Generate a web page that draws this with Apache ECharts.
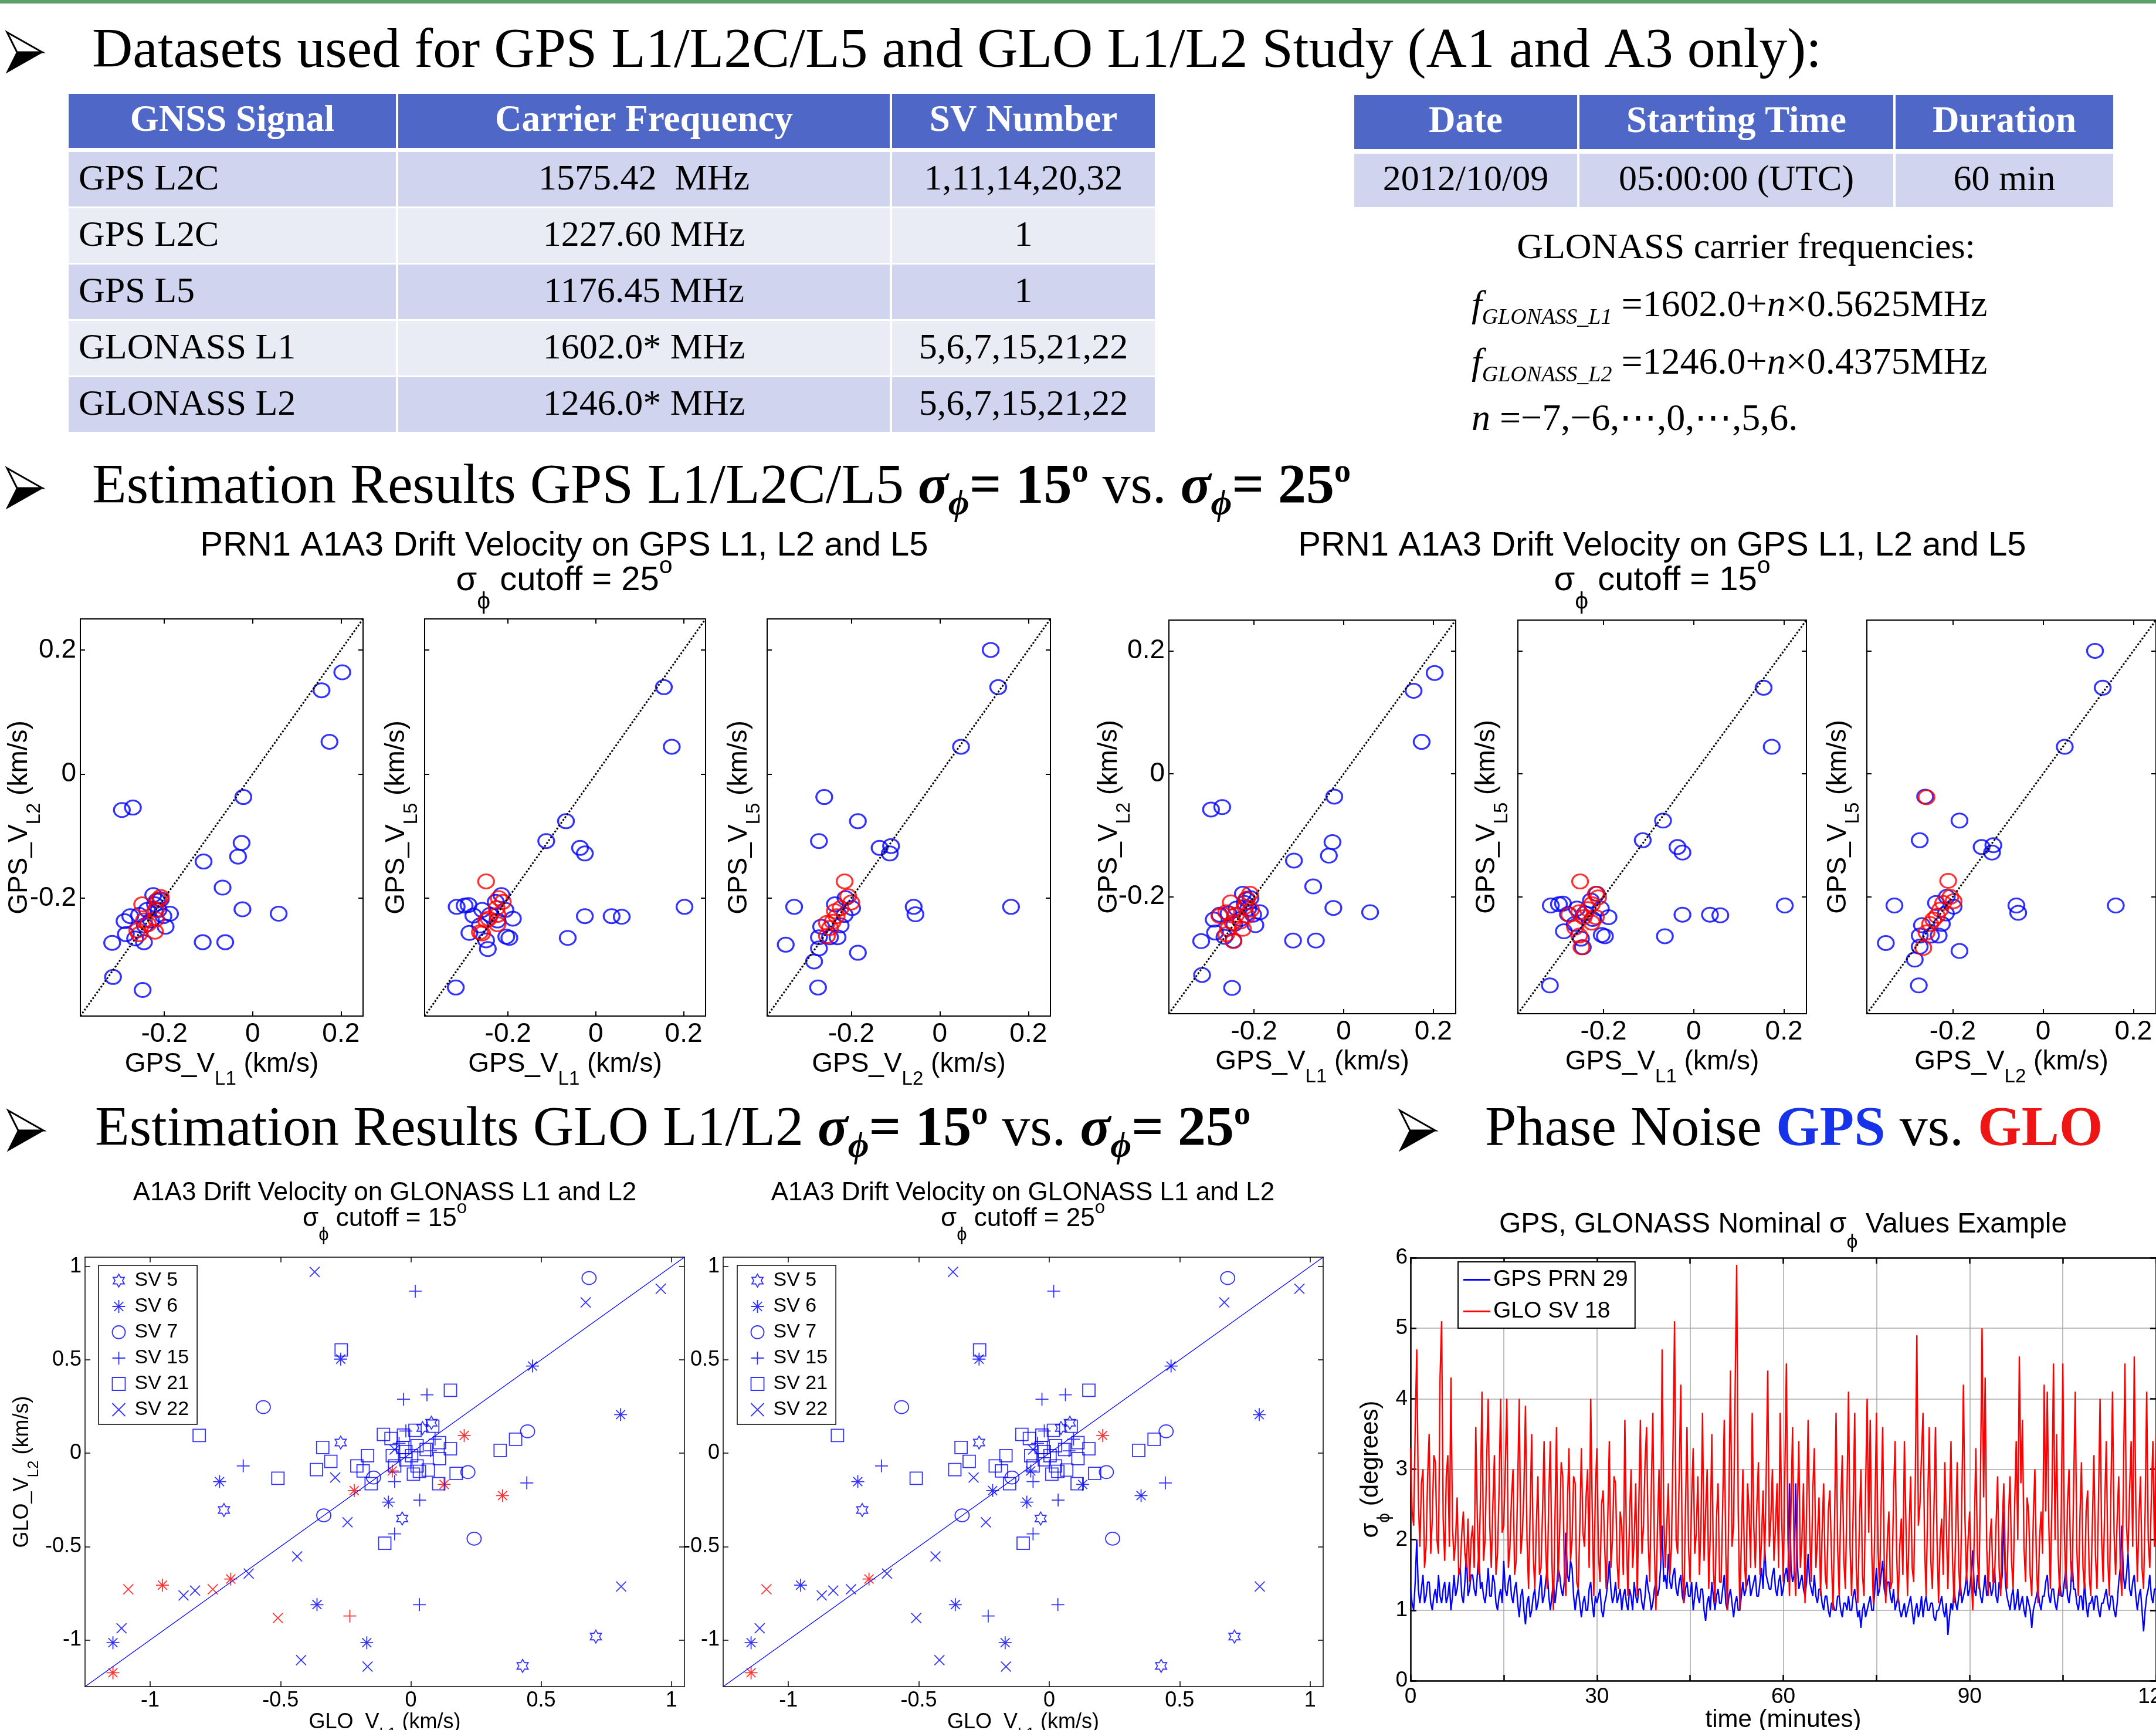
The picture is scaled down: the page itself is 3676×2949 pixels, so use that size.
<!DOCTYPE html>
<html>
<head>
<meta charset="utf-8">
<script src="https://cdn.jsdelivr.net/npm/echarts@6/dist/echarts.min.js"></script>
<style>
  html, body { margin: 0; padding: 0; background: #fff; }
  #slide { width: 3676px; height: 2949px; }
</style>
</head>
<body>
<div id="slide"></div>
<script>
const SERIF = "'Liberation Serif', 'Times New Roman', serif";
const SANS = "'Liberation Sans', Arial, Helvetica, sans-serif";
const BLUE = '#0000ff';
const RED = '#ff0000';

// ---- tables ----
const signalHeader = ['GNSS Signal', 'Carrier Frequency', 'SV Number'];
const signalNames = ['GPS L2C', 'GPS L2C', 'GPS L5', 'GLONASS L1', 'GLONASS L2'];
const signalFreqs = ['1575.42  MHz', '1227.60 MHz', '1176.45 MHz', '1602.0* MHz', '1246.0* MHz'];
const signalSVs = ['1,11,14,20,32', '1', '1', '5,6,7,15,21,22', '5,6,7,15,21,22'];
const dateHeader = ['Date', 'Starting Time', 'Duration'];
const dateRow = ['2012/10/09', '05:00:00 (UTC)', '60 min'];

// ---- GPS drift velocity scatter (km/s) ----
const gpsTicks = [-0.2, 0, 0.2];
const gpsRange = [-0.39, 0.25];
const l1l2Blue = [
  [0.203, 0.164], [0.156, 0.135], [0.174, 0.052], [-0.021, -0.037], [-0.271, -0.054], [-0.296, -0.058],
  [-0.025, -0.111], [-0.033, -0.133], [-0.111, -0.141], [-0.068, -0.183], [-0.023, -0.218], [0.059, -0.225],
  [-0.113, -0.271], [-0.062, -0.271], [-0.318, -0.272], [-0.316, -0.327], [-0.249, -0.348],
  [-0.225, -0.195], [-0.208, -0.202], [-0.187, -0.225], [-0.202, -0.229], [-0.197, -0.246], [-0.277, -0.229],
  [-0.290, -0.237], [-0.287, -0.258], [-0.266, -0.265], [-0.246, -0.271], [-0.257, -0.227], [-0.239, -0.219],
  [-0.221, -0.210], [-0.213, -0.219], [-0.244, -0.244], [-0.230, -0.236], [-0.217, -0.204]
];
const l1l2Red25 = [
  [-0.208, -0.198], [-0.213, -0.202], [-0.250, -0.210], [-0.219, -0.219], [-0.219, -0.234],
  [-0.246, -0.236], [-0.237, -0.242], [-0.261, -0.252], [-0.221, -0.254], [-0.257, -0.258]
];
const l1l2Red15 = [
  [-0.209, -0.195], [-0.216, -0.203], [-0.252, -0.209], [-0.220, -0.216], [-0.277, -0.231], [-0.262, -0.225],
  [-0.240, -0.229], [-0.216, -0.231], [-0.248, -0.242], [-0.225, -0.252], [-0.258, -0.252], [-0.262, -0.261],
  [-0.246, -0.272], [-0.230, -0.240], [-0.207, -0.221]
];
const l1l5Blue = [
  [0.155, 0.140], [0.173, 0.044], [-0.068, -0.076], [-0.113, -0.108], [-0.036, -0.119], [-0.025, -0.128],
  [0.202, -0.214], [-0.025, -0.229], [0.036, -0.229], [0.059, -0.230], [-0.064, -0.264], [-0.319, -0.344],
  [-0.317, -0.214], [-0.299, -0.212], [-0.290, -0.211], [-0.279, -0.228], [-0.259, -0.219], [-0.288, -0.256],
  [-0.204, -0.262], [-0.197, -0.264], [-0.189, -0.233], [-0.250, -0.268], [-0.246, -0.282], [-0.215, -0.195],
  [-0.206, -0.219], [-0.228, -0.206], [-0.264, -0.244], [-0.224, -0.236], [-0.241, -0.227]
];
const l1l5Red25 = [
  [-0.250, -0.173], [-0.221, -0.200], [-0.212, -0.206], [-0.226, -0.216], [-0.224, -0.227],
  [-0.244, -0.233], [-0.224, -0.242], [-0.259, -0.257], [-0.250, -0.236], [-0.264, -0.255]
];
const l1l5Red15 = [
  [-0.252, -0.175], [-0.217, -0.195], [-0.212, -0.201], [-0.226, -0.212], [-0.235, -0.220], [-0.254, -0.225],
  [-0.276, -0.229], [-0.244, -0.233], [-0.217, -0.233], [-0.226, -0.242], [-0.263, -0.250], [-0.254, -0.263],
  [-0.249, -0.282]
];
const l2l5Blue = [
  [0.115, 0.200], [0.132, 0.140], [0.048, 0.044], [-0.261, -0.037], [-0.185, -0.076], [-0.273, -0.108],
  [-0.136, -0.119], [-0.110, -0.116], [-0.113, -0.128], [-0.329, -0.214], [-0.059, -0.214], [-0.055, -0.226],
  [0.161, -0.214], [-0.348, -0.275], [-0.185, -0.288], [-0.284, -0.302], [-0.273, -0.281], [-0.275, -0.344],
  [-0.237, -0.210], [-0.213, -0.200], [-0.198, -0.216], [-0.273, -0.263], [-0.248, -0.263], [-0.231, -0.263],
  [-0.268, -0.246], [-0.224, -0.244], [-0.215, -0.227]
];
const l2l5Red25 = [
  [-0.215, -0.173], [-0.207, -0.197], [-0.200, -0.207], [-0.224, -0.216], [-0.237, -0.221],
  [-0.233, -0.229], [-0.242, -0.238], [-0.255, -0.240], [-0.255, -0.261], [-0.248, -0.248]
];
const l2l5Red15 = [
  [-0.258, -0.038], [-0.210, -0.174], [-0.205, -0.200], [-0.198, -0.207], [-0.228, -0.221], [-0.235, -0.231],
  [-0.250, -0.244], [-0.265, -0.283], [-0.258, -0.258], [-0.243, -0.237], [-0.221, -0.210]
];

// ---- GLONASS L1 vs L2 drift velocity (km/s) ----
const gloTicks = [-1, -0.5, 0, 0.5, 1];
const gloRange = [-1.25, 1.05];
const svNames = ['SV 5', 'SV 6', 'SV 7', 'SV 15', 'SV 21', 'SV 22'];
const sv5 = [[-0.269, 0.057], [-0.717, -0.304], [-0.033, -0.350], [0.079, 0.163], [0.045, 0.135], [0.710, -0.982], [0.429, -1.139]];
const sv6 = [
  [-0.269, 0.504], [0.467, 0.467], [0.805, 0.207], [-0.734, -0.152], [-0.086, -0.262], [-0.360, -0.811],
  [-0.169, -1.015], [-1.143, -1.015], [0.205, 0.095], [-0.071, -0.095], [0.128, -0.167], [-0.217, -0.200],
  [0.352, -0.227], [-0.691, -0.674], [-0.953, -0.707], [-1.143, -1.176]
];
const sv7 = [[0.684, 0.938], [-0.566, 0.247], [0.448, 0.117], [0.219, -0.101], [-0.143, -0.130], [-0.334, -0.333], [0.243, -0.458]];
const sv15 = [
  [0.017, 0.868], [-0.028, 0.289], [0.062, 0.313], [-0.643, -0.068], [0.445, -0.159], [-0.062, -0.152],
  [0.034, -0.251], [-0.062, -0.432], [0.033, -0.811], [-0.234, -0.872], [-0.019, 0.119], [0.093, 0.075],
  [0.076, 0.013], [-0.045, 0.053]
];
const sv21 = [
  [-0.267, 0.553], [0.152, 0.337], [-0.812, 0.095], [0.402, 0.075], [0.343, 0.015], [0.152, 0.024],
  [-0.338, 0.031], [-0.307, -0.044], [-0.362, -0.088], [-0.510, -0.134], [-0.207, -0.068], [-0.166, -0.013],
  [-0.183, -0.095], [-0.152, -0.163], [-0.105, 0.101], [-0.100, -0.482], [0.174, -0.108], [0.107, -0.163],
  [-0.076, 0.079], [-0.028, 0.097], [0.016, 0.123], [0.084, 0.145], [-0.071, -0.013], [-0.031, 0.031],
  [0.024, 0.040], [-0.019, -0.035], [0.024, -0.068], [0.067, -0.090], [0.033, -0.097], [0.010, -0.112],
  [-0.062, -0.068], [0.110, -0.029], [0.059, 0.020], [0.110, 0.057], [-0.019, 0.009], [0.003, -0.013]
];
const sv22 = [
  [-0.369, 0.971], [0.671, 0.808], [0.959, 0.881], [-0.290, -0.130], [-0.243, -0.370], [-0.436, -0.553],
  [-0.622, -0.645], [-0.828, -0.736], [-0.872, -0.762], [-1.110, -0.938], [-0.421, -1.108], [-0.166, -1.143],
  [0.807, -0.714], [-0.062, 0.020], [-1.084, -0.729], [-0.760, -0.729], [-0.510, -0.883]
];
// indices of points flagged red in each cutoff
const sv6Red15 = [8, 9, 10, 11, 12, 13, 14, 15];
const sv6Red25 = [8, 13, 15];
const sv15Red15 = [9];
const sv15Red25 = [];
const sv22Red15 = [14, 15, 16];
const sv22Red25 = [14];

// ---- phase noise, sigma_phi (degrees), sampled every 0.25 min ----
const phaseStep = 0.25;
const gpsPrn29 = [
  1.3,1.1,1.0,1.4,2.0,1.3,1.1,1.3,1.5,1.1,1.2,1.4,1.4,1.1,1.0,1.2,1.3,1.1,1.5,1.2,
  1.1,1.3,1.4,1.1,1.2,1.4,1.0,1.2,1.5,1.2,1.3,1.5,1.6,1.2,1.1,1.4,1.8,1.2,1.3,1.5,
  1.5,1.3,1.2,1.5,1.8,1.3,1.4,1.2,1.1,1.3,1.6,1.2,1.2,1.5,1.4,1.1,1.0,1.2,1.3,1.1,
  1.7,1.3,1.2,1.4,1.5,1.2,1.1,1.3,1.4,1.1,0.9,1.2,1.3,1.0,0.8,1.1,1.2,0.9,1.0,1.2,
  1.3,1.0,1.1,1.3,1.5,1.1,1.2,1.4,1.6,1.2,1.0,1.2,1.4,1.1,1.3,1.6,1.5,1.3,1.2,1.4,
  2.1,1.5,1.4,1.7,1.6,1.2,1.0,1.2,1.3,1.1,0.9,1.1,1.2,1.0,1.0,1.3,1.4,1.1,0.9,1.2,
  1.1,1.2,1.3,1.0,0.9,1.1,1.2,1.4,1.7,1.3,1.1,1.2,1.4,1.1,1.2,1.3,1.0,1.2,1.3,1.1,
  1.0,1.3,1.2,1.0,1.4,1.2,1.1,1.3,1.3,1.1,1.0,1.2,1.5,1.3,1.2,1.0,1.1,1.3,1.4,1.2,
  1.3,1.6,2.2,1.4,1.5,1.3,1.8,1.4,1.3,1.5,1.6,1.3,1.2,1.4,1.5,1.2,1.1,1.3,1.4,1.2,
  1.2,1.4,1.0,1.2,1.4,1.2,1.1,1.3,1.3,1.0,0.85,1.1,1.2,1.0,1.4,1.2,1.0,1.2,1.3,1.1,
  1.1,1.3,1.5,1.1,1.0,1.2,1.3,1.1,0.9,1.1,1.2,1.0,1.0,1.2,1.4,1.2,1.3,1.4,1.5,1.2,
  1.3,1.4,1.5,1.2,1.2,1.4,1.6,1.3,1.9,1.5,1.4,1.3,1.3,1.5,1.6,1.3,1.2,1.4,1.5,1.2,
  1.3,1.5,1.6,1.4,2.8,1.6,1.4,1.5,2.8,1.7,1.3,1.4,1.5,1.3,1.2,1.4,1.8,1.4,1.3,1.2,
  1.5,1.2,1.1,1.3,1.3,1.1,1.0,1.2,1.2,1.0,0.9,1.1,1.1,1.0,1.0,1.2,1.2,1.0,0.9,1.1,
  1.1,1.0,1.2,1.0,1.0,1.2,1.3,1.1,0.9,1.0,0.75,1.0,1.1,0.9,1.0,1.1,1.2,1.0,1.0,1.3,
  1.6,1.2,1.3,1.5,1.7,1.3,1.2,1.4,1.4,1.2,1.1,1.3,1.0,1.1,1.2,1.0,0.9,1.0,1.1,0.9,
  1.0,1.1,1.2,1.0,0.8,1.0,1.1,0.9,1.0,1.2,0.9,1.1,1.2,1.0,1.0,1.1,1.1,0.9,0.85,1.0,
  1.0,1.1,1.2,1.0,0.9,1.1,0.65,0.9,1.1,1.0,1.3,1.1,1.0,1.2,1.4,1.1,1.2,1.3,1.5,1.2,
  1.3,1.5,1.85,1.3,1.2,1.5,1.4,1.2,1.1,1.3,1.5,1.2,1.3,1.4,1.2,1.3,1.6,1.2,1.1,1.4,
  1.3,1.5,2.4,1.4,1.2,1.1,1.0,1.2,1.3,1.0,1.1,1.3,1.0,1.1,1.2,1.0,0.9,1.2,1.1,1.0,
  0.75,1.0,1.1,1.2,1.3,1.1,1.0,1.2,1.2,1.4,1.5,1.2,1.1,1.3,1.3,1.1,1.0,1.2,1.4,1.2,
  1.2,1.4,1.6,1.2,1.1,1.3,1.7,1.3,1.3,1.1,1.0,1.2,1.2,1.0,1.4,1.1,0.9,1.1,1.1,1.2,
  1.0,1.2,1.2,1.0,0.9,1.1,1.1,1.2,1.3,1.1,1.0,1.2,1.2,1.0,0.9,1.1,1.4,1.6,2.2,1.5,
  1.3,1.5,1.8,1.3,1.2,1.4,1.5,1.2,1.0,1.2,1.3,1.0,0.7,1.0,1.2,1.3,1.5,1.2,1.1,1.3,
  1.3
];
const gloSv18 = [
  3.3,2.4,2.2,3.6,4.7,2.6,1.9,2.8,3.0,1.6,1.9,2.9,3.5,1.8,2.3,3.2,3.1,2.0,1.8,4.3,
  5.1,2.3,1.7,2.9,3.2,1.9,4.3,2.2,1.7,2.0,2.6,1.5,1.6,2.1,2.4,1.8,1.6,2.3,1.4,2.0,
  2.2,1.6,3.6,2.3,1.5,2.6,4.1,1.7,2.0,3.1,4.0,2.2,1.6,2.5,3.2,1.5,1.8,2.7,4.0,2.1,
  2.2,3.0,4.0,1.6,1.9,2.6,3.0,1.5,1.7,2.8,4.0,1.8,2.1,2.7,3.9,2.0,1.3,2.4,3.5,1.8,
  1.3,2.2,2.9,1.5,1.6,2.4,3.4,1.9,1.3,2.6,3.4,1.7,1.0,2.3,3.6,1.4,2.1,3.1,2.9,1.6,
  1.2,2.5,3.3,1.7,2.0,2.9,2.8,1.4,1.3,2.2,3.3,2.1,1.9,2.6,3.0,1.6,4.0,2.4,1.2,2.7,
  3.3,1.8,1.4,2.5,2.7,1.9,1.3,2.3,3.4,1.6,2.0,2.9,2.8,1.7,1.3,2.4,2.2,1.5,3.7,2.0,
  1.2,2.3,3.0,1.6,2.0,2.8,1.2,2.5,3.7,1.8,2.2,3.1,3.6,2.0,1.4,2.7,3.8,1.9,1.0,2.2,
  3.0,1.7,4.7,2.4,1.6,2.2,2.8,1.5,1.9,3.3,5.1,2.0,1.8,2.9,4.2,1.6,1.1,2.4,3.6,1.9,
  1.4,2.6,3.3,1.8,2.1,2.9,1.5,2.2,3.8,1.7,2.4,3.0,1.3,2.1,3.5,1.6,1.1,2.3,2.8,1.4,
  1.4,2.5,3.7,1.8,1.0,2.6,4.4,1.9,2.2,4.1,5.9,2.4,1.0,2.0,3.0,1.7,1.3,2.8,2.4,1.6,
  3.8,2.2,1.6,2.5,3.1,1.5,2.0,2.7,1.7,2.9,4.4,1.9,2.3,3.0,1.7,2.2,2.8,1.6,3.8,2.3,
  1.4,2.9,4.5,2.0,1.2,2.5,3.6,1.7,1.2,2.3,3.4,1.6,2.0,2.8,1.1,2.4,3.7,2.1,1.4,2.7,
  3.3,1.6,2.0,2.6,1.2,2.1,2.8,1.5,1.3,2.4,2.7,1.8,1.0,2.2,3.8,1.9,1.2,2.5,3.2,1.7,
  1.3,2.6,4.1,1.9,1.2,2.4,3.8,1.6,1.1,2.2,3.0,1.5,1.2,2.7,4.0,2.1,3.7,1.8,1.1,2.3,
  3.8,1.9,1.3,2.5,3.6,1.7,1.1,2.0,2.4,1.3,1.4,2.6,3.4,1.8,1.1,1.9,2.3,1.5,3.4,2.2,
  1.2,2.1,2.9,1.6,1.4,2.8,4.9,2.2,2.5,3.2,3.8,1.9,1.2,2.5,3.6,1.7,1.3,2.4,3.6,2.0,
  1.1,2.0,2.3,1.5,3.1,2.2,1.3,2.4,3.4,1.7,1.1,2.1,3.1,1.6,1.2,2.6,4.2,2.3,1.4,2.0,
  2.4,1.5,1.0,2.1,3.3,1.8,1.3,2.9,5.0,2.6,4.3,1.9,1.2,2.0,2.3,1.4,1.4,2.2,2.9,1.6,
  1.2,2.2,2.8,1.6,1.3,2.3,2.9,1.7,1.3,2.5,3.4,2.0,4.6,2.8,3.7,1.9,1.4,2.6,2.4,1.5,
  1.2,2.3,3.0,1.7,1.1,2.0,2.4,1.8,4.2,2.4,4.1,2.2,1.3,2.6,4.5,2.0,3.5,1.8,1.2,2.4,
  4.5,2.1,1.3,2.5,3.0,1.7,1.4,2.8,4.1,1.9,1.2,2.3,3.1,1.6,1.3,2.4,2.7,1.5,1.2,2.2,
  3.2,1.8,1.3,2.6,4.0,2.0,1.4,2.5,3.4,1.7,1.2,2.7,4.1,2.1,1.5,2.3,2.9,1.6,1.2,2.8,
  4.5,2.2,1.8,2.7,3.4,1.9,4.6,2.5,1.4,2.3,2.9,1.6,1.3,2.4,4.1,2.0,1.6,2.6,3.4,1.9,
  3.5
];

// ---- marker shapes (MATLAB style) ----
const SYM_HEX = 'path://M10,0 L7.11,5 L1.34,5 L4.23,10 L1.34,15 L7.11,15 L10,20 L12.89,15 L18.66,15 L15.77,10 L18.66,5 L12.89,5 Z';
const SYM_AST = 'path://M10,0 L10,20 M0,10 L20,10 M2.93,2.93 L17.07,17.07 M2.93,17.07 L17.07,2.93';
const SYM_PLUS = 'path://M10,0 L10,20 M0,10 L20,10';
const SYM_X = 'path://M0,0 L20,20 M0,20 L20,0';
const svSymbols = [SYM_HEX, SYM_AST, 'circle', SYM_PLUS, 'rect', SYM_X];
const svSizes = [[19, 22], 22, [24, 22], 22, 21, 17];

// ---------------------------------------------------------------
const graphics = [];
function T(x, y, text, style) {
  const s = Object.assign({ text: text, fill: '#000', fontFamily: SERIF, fontSize: 62, align: 'left', verticalAlign: 'middle' }, style);
  s.textAlign = s.align;
  s.textVerticalAlign = s.verticalAlign;
  return { type: 'text', x: x, y: y, silent: true, z: 10, style: s };
}
function R(x, y, w, h, fill) {
  return { type: 'rect', silent: true, z: 5, shape: { x: x, y: y, width: w, height: h }, style: { fill: fill } };
}
// bullet arrowhead: outlined upper facet, solid lower facet
function arrow(x, y) {
  graphics.push({ type: 'polygon', silent: true, z: 10, shape: { points: [[x, y], [x + 60, y + 34], [x + 17, y + 34]] },
    style: { fill: '#fff', stroke: '#000', lineWidth: 3, lineJoin: 'miter' } });
  graphics.push({ type: 'polygon', silent: true, z: 10, shape: { points: [[x + 17, y + 34], [x + 60, y + 34], [x, y + 68]] },
    style: { fill: '#000', stroke: '#000', lineWidth: 2 } });
}

graphics.push(R(0, 0, 3676, 6, '#5f9f6c'));

// headings
const headRich = {
  t: { fontFamily: SERIF, fontSize: 96 },
  b: { fontFamily: SERIF, fontSize: 96, fontWeight: 'bold' },
  bi: { fontFamily: SERIF, fontSize: 96, fontWeight: 'bold', fontStyle: 'italic' },
  sub: { fontFamily: SERIF, fontSize: 62, fontWeight: 'bold', fontStyle: 'italic', padding: [58, 0, 0, 0] },
  sup: { fontFamily: SERIF, fontSize: 56, fontWeight: 'bold', padding: [0, 0, 50, 0] },
  gps: { fontFamily: SERIF, fontSize: 96, fontWeight: 'bold', fill: '#1733ea' },
  glo: { fontFamily: SERIF, fontSize: 96, fontWeight: 'bold', fill: '#ee1515' }
};
const sigmaPart = '{bi|σ}{sub|ϕ}{b|= 15}{sup|o}{t| vs. }{bi|σ}{sub|ϕ}{b|= 25}{sup|o}';
arrow(12, 55);
arrow(12, 798);
arrow(14, 1893);
arrow(2387, 1893);
graphics.push(T(157, 89, '{t|Datasets used for GPS L1/L2C/L5 and GLO L1/L2 Study (A1 and A3 only):}', { rich: headRich }));
graphics.push(T(157, 832, '{t|Estimation Results GPS L1/L2C/L5 }' + sigmaPart, { rich: headRich }));
graphics.push(T(162, 1927, '{t|Estimation Results GLO L1/L2 }' + sigmaPart, { rich: headRich }));
graphics.push(T(2532, 1927, '{t|Phase Noise }{gps|GPS}{t| vs. }{glo|GLO}', { rich: headRich }));

// table 1
const t1Cols = [117, 677, 1519, 1969];
const t1Body = [[259, 352], [355, 448], [451, 544], [547, 640], [643, 736]];
const headFill = '#4f68c8';
const bodyFills = ['#d0d4ee', '#e9ebf5'];
function cellX(cols, i) { return [cols[i] + (i > 0 ? 2 : 0), cols[i + 1] - (i < cols.length - 2 ? 2 : 0)]; }
for (let i = 0; i < 3; i++) {
  const cx = cellX(t1Cols, i);
  graphics.push(R(cx[0], 160, cx[1] - cx[0], 92, headFill));
  graphics.push(T((cx[0] + cx[1]) / 2, 207, signalHeader[i], { fill: '#fff', fontWeight: 'bold', fontSize: 63, align: 'center' }));
  t1Body.forEach(function (r, j) {
    graphics.push(R(cx[0], r[0], cx[1] - cx[0], r[1] - r[0], bodyFills[j % 2]));
  });
}
t1Body.forEach(function (r, j) {
  const cy = (r[0] + r[1]) / 2 + 1;
  graphics.push(T(134, cy, signalNames[j], {}));
  graphics.push(T(1098, cy, signalFreqs[j], { align: 'center' }));
  graphics.push(T(1745, cy, signalSVs[j], { align: 'center' }));
});
// table 2
const t2Cols = [2309, 2691, 3230, 3603];
for (let i = 0; i < 3; i++) {
  const cx = cellX(t2Cols, i);
  graphics.push(R(cx[0], 162, cx[1] - cx[0], 92, headFill));
  graphics.push(R(cx[0], 262, cx[1] - cx[0], 91, bodyFills[0]));
  graphics.push(T((cx[0] + cx[1]) / 2, 209, dateHeader[i], { fill: '#fff', fontWeight: 'bold', fontSize: 63, align: 'center' }));
  graphics.push(T((cx[0] + cx[1]) / 2, 308, dateRow[i], { align: 'center' }));
}
// GLONASS frequency formulas
const fRich = {
  r: { fontFamily: SERIF, fontSize: 64 },
  i: { fontFamily: SERIF, fontSize: 64, fontStyle: 'italic' },
  s: { fontFamily: SERIF, fontSize: 38, fontStyle: 'italic', padding: [40, 0, 0, 0] }
};
graphics.push(T(2977, 424, 'GLONASS carrier frequencies:', { align: 'center' }));
graphics.push(T(2509, 522, '{i|f}{s|GLONASS_L1}{r| =1602.0+}{i|n}{r|×0.5625MHz}', { rich: fRich }));
graphics.push(T(2509, 620, '{i|f}{s|GLONASS_L2}{r| =1246.0+}{i|n}{r|×0.4375MHz}', { rich: fRich }));
graphics.push(T(2509, 716, '{i|n}{r| =−7,−6,⋯,0,⋯,5,6.}', { rich: fRich }));

// plot titles
function sigmaTitle(size) {
  return {
    t: { fontFamily: SANS, fontSize: size },
    sub: { fontFamily: SANS, fontSize: Math.round(size * 0.7), padding: [Math.round(size * 1.25), 0, 0, 0] },
    sup: { fontFamily: SANS, fontSize: Math.round(size * 0.7), padding: [0, 0, Math.round(size * 0.85), 0] }
  };
}
const gpsTitleRich = sigmaTitle(58);
[[962, '25'], [2834, '15']].forEach(function (p) {
  graphics.push(T(p[0], 931, 'PRN1 A1A3 Drift Velocity on GPS L1, L2 and L5', { fontFamily: SANS, fontSize: 58, align: 'center' }));
  graphics.push(T(p[0], 990, '{t|σ}{sub|ϕ}{t| cutoff = ' + p[1] + '}{sup|o}', { rich: gpsTitleRich, align: 'center' }));
});
const gloTitleRich = sigmaTitle(44);
[[656, '15'], [1744, '25']].forEach(function (p) {
  graphics.push(T(p[0], 2034, 'A1A3 Drift Velocity on GLONASS L1 and L2', { fontFamily: SANS, fontSize: 44, align: 'center' }));
  graphics.push(T(p[0], 2078, '{t|σ}{sub|ϕ}{t| cutoff = ' + p[1] + '}{sup|o}', { rich: gloTitleRich, align: 'center' }));
});
graphics.push(T(3040, 2088, '{t|GPS, GLONASS Nominal σ}{sub|ϕ}{t| Values Example}', { rich: sigmaTitle(48), align: 'center' }));

// ---------------------------------------------------------------
const grids = [];
const xAxes = [];
const yAxes = [];
const series = [];

function subName(size) {
  return {
    fontFamily: SANS, fontSize: size, color: '#000',
    rich: { s: { fontFamily: SANS, fontSize: Math.round(size * 0.72), color: '#000', padding: [Math.round(size * 1.1), 0, 0, 0] } }
  };
}

function addBox(box, range, ticks, cfg) {
  const gi = grids.length;
  grids.push({ left: box[0], top: box[1], width: box[2], height: box[3], containLabel: false, outerBoundsMode: 'none' });
  const lineStyle = { color: '#000', width: cfg.lw };
  const base = {
    gridIndex: gi, type: 'value', min: range[0], max: range[1],
    axisLine: { show: true, onZero: false, lineStyle: lineStyle },
    axisTick: { show: true, inside: true, length: cfg.tickLen, customValues: ticks, lineStyle: lineStyle },
    splitLine: { show: false }
  };
  const lab = { fontFamily: SANS, fontSize: cfg.labelSize, color: '#000', customValues: ticks };
  const xi = xAxes.length;
  xAxes.push(Object.assign({}, base, {
    position: 'bottom',
    axisLabel: Object.assign({ show: true, margin: cfg.xMargin }, lab),
    name: cfg.xName, nameLocation: 'middle', nameGap: cfg.xGap, nameTextStyle: subName(cfg.nameSize)
  }));
  xAxes.push(Object.assign({}, base, { position: 'top', axisLabel: { show: false } }));
  const yi = yAxes.length;
  yAxes.push(Object.assign({}, base, {
    position: 'left',
    axisLabel: Object.assign({ show: cfg.yLabels, margin: cfg.yMargin }, lab),
    name: cfg.yName, nameLocation: 'middle', nameRotate: 90, nameGap: cfg.yGap, nameMoveOverlap: false,
    nameTextStyle: subName(cfg.nameSize)
  }));
  yAxes.push(Object.assign({}, base, { position: 'right', axisLabel: { show: false } }));
  return [xi, yi];
}

// GPS panels
const gpsBoxes = [
  [137, 1055, 482, 677], [724, 1055, 479, 677], [1308, 1055, 483, 677],
  [1993, 1057, 489, 671], [2588, 1057, 492, 671], [3183, 1057, 493, 671]
];
const gpsPanels = [
  { blue: l1l2Blue, red: l1l2Red25, xs: 'L1', ys: 'L2', yLabels: true, yGap: 62 },
  { blue: l1l5Blue, red: l1l5Red25, xs: 'L1', ys: 'L5', yLabels: false, yGap: 6 },
  { blue: l2l5Blue, red: l2l5Red25, xs: 'L2', ys: 'L5', yLabels: false, yGap: 6 },
  { blue: l1l2Blue, red: l1l2Red15, xs: 'L1', ys: 'L2', yLabels: true, yGap: 60 },
  { blue: l1l5Blue, red: l1l5Red15, xs: 'L1', ys: 'L5', yLabels: false, yGap: 11 },
  { blue: l2l5Blue, red: l2l5Red15, xs: 'L2', ys: 'L5', yLabels: false, yGap: 7 }
];
gpsPanels.forEach(function (p, k) {
  const ax = addBox(gpsBoxes[k], gpsRange, gpsTicks, {
    lw: 2, tickLen: 8, labelSize: 46, xMargin: 8, yMargin: 7, nameSize: 46,
    xName: 'GPS_V{s|' + p.xs + '} (km/s)', xGap: 40,
    yName: 'GPS_V{s|' + p.ys + '} (km/s)', yGap: p.yGap, yLabels: p.yLabels
  });
  const common = { xAxisIndex: ax[0], yAxisIndex: ax[1], silent: true, animation: false };
  series.push(Object.assign({
    type: 'line', data: [[gpsRange[0], gpsRange[0]], [gpsRange[1], gpsRange[1]]], symbol: 'none',
    lineStyle: { color: '#000', width: 3, type: [3, 3] }
  }, common));
  series.push(Object.assign({
    type: 'scatter', data: p.blue, symbol: 'circle', symbolSize: [27, 24],
    itemStyle: { color: 'none', borderColor: BLUE, borderWidth: 3.2 }
  }, common));
  series.push(Object.assign({
    type: 'scatter', data: p.red, symbol: 'circle', symbolSize: [27, 24],
    itemStyle: { color: 'none', borderColor: RED, borderWidth: 3.2 }
  }, common));
});

// GLONASS panels
const gloBoxes = [[145, 2143, 1022, 732], [1233, 2143, 1023, 732]];
const svPoints = [sv5, sv6, sv7, sv15, sv21, sv22];
const svRed = [
  [[], sv6Red15, [], sv15Red15, [], sv22Red15],
  [[], sv6Red25, [], sv15Red25, [], sv22Red25]
];
gloBoxes.forEach(function (box, k) {
  const ax = addBox(box, gloRange, gloTicks, {
    lw: 1.5, tickLen: 9, labelSize: 36, xMargin: 6, yMargin: 6, nameSize: 36,
    xName: 'GLO_V{s|L1} (km/s)', xGap: 26,
    yName: k === 0 ? 'GLO_V{s|L2} (km/s)' : '', yGap: 74, yLabels: true
  });
  const common = { xAxisIndex: ax[0], yAxisIndex: ax[1], silent: true, animation: false };
  series.push(Object.assign({
    type: 'line', data: [[gloRange[0], gloRange[0]], [gloRange[1], gloRange[1]]], symbol: 'none',
    lineStyle: { color: BLUE, width: 1.3 }
  }, common));
  svPoints.forEach(function (pts, s) {
    const reds = svRed[k][s];
    series.push(Object.assign({
      type: 'scatter', name: svNames[s], symbol: svSymbols[s], symbolSize: svSizes[s],
      itemStyle: { color: 'none', borderColor: BLUE, borderWidth: 1.8 },
      data: pts.map(function (v, i) {
        return reds.indexOf(i) >= 0 ? { value: v, itemStyle: { borderColor: RED } } : { value: v };
      })
    }, common));
  });
});

// phase noise panel
const pnGrid = grids.length;
grids.push({ left: 2405, top: 2144, width: 1271, height: 721, containLabel: false, outerBoundsMode: 'none' });
const pnLine = { color: '#000', width: 2.5 };
const pnSplit = { show: true, lineStyle: { color: '#a9a9a9', width: 1.5 } };
const pnLab = { fontFamily: SANS, fontSize: 37, color: '#000' };
const pnX = xAxes.length;
xAxes.push({
  gridIndex: pnGrid, type: 'value', min: 0, max: 120, interval: 15, position: 'bottom',
  axisLine: { show: true, onZero: false, lineStyle: pnLine },
  axisTick: { show: true, inside: true, length: 10, lineStyle: pnLine },
  axisLabel: Object.assign({ margin: 9, formatter: function (v) { return v % 30 === 0 ? String(v) : ''; } }, pnLab),
  splitLine: pnSplit,
  name: 'time (minutes)', nameLocation: 'middle', nameGap: 46, nameTextStyle: { fontFamily: SANS, fontSize: 42, color: '#000' }
});
xAxes.push({
  gridIndex: pnGrid, type: 'value', min: 0, max: 120, interval: 15, position: 'top',
  axisLine: { show: true, onZero: false, lineStyle: pnLine },
  axisTick: { show: true, inside: true, length: 10, lineStyle: pnLine },
  axisLabel: { show: false }, splitLine: { show: false }
});
const pnY = yAxes.length;
yAxes.push({
  gridIndex: pnGrid, type: 'value', min: 0, max: 6, interval: 1, position: 'left',
  axisLine: { show: true, onZero: false, lineStyle: pnLine },
  axisTick: { show: true, inside: true, length: 10, lineStyle: pnLine },
  axisLabel: Object.assign({ margin: 5 }, pnLab),
  splitLine: pnSplit,
  name: 'σ{s|ϕ} (degrees)', nameLocation: 'middle', nameRotate: 90, nameGap: 28, nameTextStyle: subName(42)
});
yAxes.push({
  gridIndex: pnGrid, type: 'value', min: 0, max: 6, interval: 1, position: 'right',
  axisLine: { show: true, onZero: false, lineStyle: pnLine },
  axisTick: { show: true, inside: true, length: 10, lineStyle: pnLine },
  axisLabel: { show: false }, splitLine: { show: false }
});
function timed(vals) { return vals.map(function (v, i) { return [i * phaseStep, v]; }); }
series.push({
  type: 'line', name: 'GPS PRN 29', xAxisIndex: pnX, yAxisIndex: pnY, data: timed(gpsPrn29),
  symbol: 'none', silent: true, lineStyle: { color: BLUE, width: 2.4 }, itemStyle: { color: BLUE }
});
series.push({
  type: 'line', name: 'GLO SV 18', xAxisIndex: pnX, yAxisIndex: pnY, data: timed(gloSv18),
  symbol: 'none', silent: true, lineStyle: { color: RED, width: 2.4 }, itemStyle: { color: RED }
});

// legends
function gloLegend(left) {
  return {
    left: left, top: 2157, orient: 'vertical', selectedMode: false,
    itemWidth: 22, itemHeight: 22, itemGap: 10, padding: [9, 14, 8, 21],
    backgroundColor: '#fff', borderColor: '#000', borderWidth: 1.5,
    textStyle: { fontFamily: SANS, fontSize: 34, color: '#000', padding: [0, 0, 0, 11] },
    data: svNames.map(function (n, s) {
      return { name: n, icon: svSymbols[s], itemStyle: { color: 'none', borderColor: BLUE, borderWidth: 1.8 } };
    })
  };
}
const legends = [
  gloLegend(168), gloLegend(1257),
  {
    left: 2486, top: 2151, orient: 'vertical', selectedMode: false,
    itemWidth: 46, itemHeight: 3, itemGap: 15, padding: [11, 12, 9, 9],
    backgroundColor: '#fff', borderColor: '#000', borderWidth: 2,
    textStyle: { fontFamily: SANS, fontSize: 39, color: '#000' },
    data: [
      { name: 'GPS PRN 29', icon: 'rect', itemStyle: { color: BLUE } },
      { name: 'GLO SV 18', icon: 'rect', itemStyle: { color: RED } }
    ]
  }
];

const chart = echarts.init(document.getElementById('slide'), null, { renderer: 'canvas', width: 3676, height: 2949 });
chart.setOption({
  animation: false,
  backgroundColor: '#fff',
  textStyle: { fontFamily: SANS },
  graphic: { elements: graphics },
  grid: grids,
  xAxis: xAxes,
  yAxis: yAxes,
  legend: legends,
  series: series
});
</script>
</body>
</html>
